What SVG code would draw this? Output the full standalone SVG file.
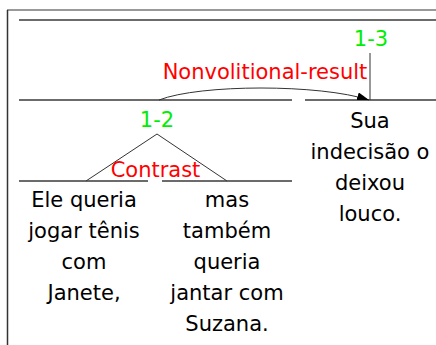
<svg xmlns="http://www.w3.org/2000/svg" width="436" height="345" viewBox="0 0 436 345">
<defs>
<style>
.t{font-family:"DejaVu Sans",sans-serif;font-size:21px;text-anchor:middle;fill:#000}
.g{fill:#00ee00}
.r{fill:#ff0000}
.ln{stroke:#3a3a3a;stroke-width:1.6;fill:none}
.thin{stroke:#333;stroke-width:1;fill:none}
</style>
<marker id="ah" viewBox="0 0 12 8" refX="12" refY="4" markerWidth="12" markerHeight="8" markerUnits="userSpaceOnUse" orient="auto">
<path d="M0,0 L12,4 L0,8 Z" fill="#000"/>
</marker>
</defs>
<rect width="436" height="345" fill="#fff"/>
<g id="frame">
<line x1="7" y1="10" x2="436" y2="10" stroke="#999" stroke-width="2"/>
<line x1="7.5" y1="10" x2="7.5" y2="345" stroke="#333" stroke-width="1.5"/>
</g>
<g id="connectors">
<line class="ln" x1="19" y1="20" x2="436" y2="20"/>
<line class="ln" x1="19" y1="100" x2="292" y2="100"/>
<line class="ln" x1="305" y1="100" x2="436" y2="100"/>
<line class="thin" x1="370" y1="53" x2="370" y2="100"/>
<path class="thin" d="M159,100 C200,84 320,84 369,100" marker-end="url(#ah)"/>
<polyline class="thin" points="86,181 157,134 227,181"/>
<line class="ln" x1="19" y1="181" x2="148" y2="181"/>
<line class="ln" x1="162" y1="181" x2="292" y2="181"/>
</g>
<g id="n13"><text class="t g" x="371" y="46">1-3</text></g>
<g id="rel1"><text class="t r" x="265" y="79">Nonvolitional-result</text></g>
<g id="n12"><text class="t g" x="157" y="127">1-2</text></g>
<g id="rel2"><text class="t r" x="155.5" y="177">Contrast</text></g>
<g id="n1">
<text class="t" x="84" y="207">Ele queria</text>
<text class="t" x="84" y="238">jogar tênis</text>
<text class="t" x="84" y="269">com</text>
<text class="t" x="84" y="300">Janete,</text>
</g>
<g id="n2">
<text class="t" x="227" y="207">mas</text>
<text class="t" x="227" y="238">também</text>
<text class="t" x="227" y="269">queria</text>
<text class="t" x="227" y="300">jantar com</text>
<text class="t" x="227" y="331">Suzana.</text>
</g>
<g id="n3">
<text class="t" x="370" y="128">Sua</text>
<text class="t" x="370" y="159">indecisão o</text>
<text class="t" x="370" y="190">deixou</text>
<text class="t" x="370" y="221">louco.</text>
</g>
</svg>
